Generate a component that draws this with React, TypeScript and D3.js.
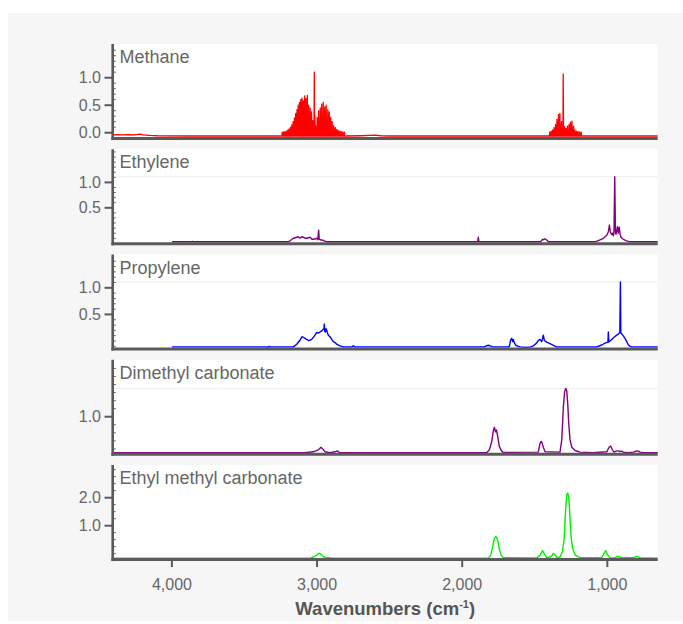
import React from "react";
import * as d3 from "d3";

type Pt = [number, number];

// ---------- data ----------
const xDomain: [number, number] = [4408, 653];
const xTickValues = [4000, 3000, 2000, 1000];
const xTitle = "Wavenumbers (cm";

const panelNames = ["Methane", "Ethylene", "Propylene", "Dimethyl carbonate", "Ethyl methyl carbonate"];
const panelColors = ["#ff0000", "#800080", "#0000ff", "#800080", "#00ee00"];
const panelYDomains: [number, number][] = [
  [-0.107, 1.613],
  [-0.21, 1.653],
  [-0.152, 1.626],
  [-0.169, 2.769],
  [-0.211, 3.168],
];
const panelMajorTicks = [[0, 0.5, 1.0], [0.5, 1.0], [0.5, 1.0], [1.0], [1.0, 2.0]];
const panelMinorTicks = [
  [-0.1, 0.1, 0.2, 0.3, 0.4, 0.6, 0.7, 0.8, 0.9, 1.1, 1.2, 1.3, 1.4, 1.5, 1.6],
  [-0.1, 0, 0.1, 0.2, 0.3, 0.4, 0.6, 0.7, 0.8, 0.9, 1.1, 1.2, 1.3, 1.4, 1.5, 1.6],
  [-0.1, 0, 0.1, 0.2, 0.3, 0.4, 0.6, 0.7, 0.8, 0.9, 1.1, 1.2, 1.3, 1.4, 1.5, 1.6],
  [0, 0.25, 0.5, 0.75, 1.25, 1.5, 1.75, 2.0, 2.25, 2.5, 2.75],
  [0, 0.25, 0.5, 0.75, 1.25, 1.5, 1.75, 2.25, 2.5, 2.75, 3.0],
];

// Methane: rovibrational line sticks [wavenumber, height] and a weak background
const methaneBase = -0.06;
const methaneSticks: Pt[] = [
  // nu3 R branch
  [3240, 0.01], [3230, 0.015], [3220, 0.02], [3211, 0.03], [3201, 0.05], [3192, 0.07],
  [3183, 0.1], [3174, 0.14], [3165, 0.2], [3156, 0.27], [3147, 0.35], [3138, 0.42],
  [3130, 0.5], [3121, 0.55], [3112, 0.6], [3104, 0.63], [3095, 0.58], [3086, 0.67],
  [3077, 0.62], [3067, 0.68], [3058, 0.5], [3048, 0.45], [3038, 0.38], [3029, 0.22],
  // nu3 Q branch
  [3019, 1.1], [3015, 0.3],
  // nu3 P branch
  [3009, 0.12], [2999, 0.28], [2989, 0.4], [2978, 0.45], [2968, 0.52], [2957, 0.55],
  [2947, 0.47], [2937, 0.5], [2926, 0.42], [2916, 0.38], [2906, 0.28], [2896, 0.2],
  [2885, 0.13], [2874, 0.09], [2864, 0.06], [2854, 0.04], [2843, 0.03], [2833, 0.02],
  [2823, 0.015], [2812, 0.01],
  // nu4 R branch
  [1397, 0.01], [1387, 0.03], [1377, 0.05], [1367, 0.09], [1357, 0.15], [1347, 0.24],
  [1337, 0.33], [1327, 0.35], [1316, 0.2],
  // nu4 Q branch
  [1304, 1.07],
  // nu4 P branch
  [1295, 0.11], [1285, 0.08], [1275, 0.12], [1264, 0.15], [1254, 0.19], [1244, 0.21],
  [1233, 0.12], [1223, 0.05], [1212, 0.03], [1202, 0.02], [1191, 0.015], [1180, 0.01],
];
const methaneBackground: Pt[] = [
  [4408, -0.04], [4380, -0.035], [4340, -0.04], [4300, -0.035], [4260, -0.04], [4220, -0.025],
  [4200, -0.04], [4150, -0.05], [4100, -0.055], [3900, -0.06], [3500, -0.06], [3260, -0.06],
  [2800, -0.06], [2700, -0.055], [2640, -0.05], [2600, -0.045], [2560, -0.055], [2500, -0.06],
  [1420, -0.06], [1170, -0.06], [653, -0.06],
];

const ethyleneData: Pt[] = [
  [4000, -0.17], [3870, -0.17], [3860, -0.16], [3850, -0.17], [3200, -0.17], [3186, -0.15],
  [3163, -0.1], [3140, -0.08], [3129, -0.07], [3117, -0.1], [3105, -0.07], [3094, -0.08],
  [3080, -0.1], [3071, -0.1], [3060, -0.09], [3048, -0.08], [3035, -0.12], [3026, -0.12],
  [3010, -0.11], [3002, -0.1], [2995, -0.13], [2989, 0.06], [2985, -0.12], [2980, -0.13],
  [2957, -0.14], [2934, -0.17], [1900, -0.17], [1893, -0.16], [1889, -0.08], [1885, -0.16],
  [1880, -0.17], [1460, -0.17], [1445, -0.12], [1440, -0.13], [1430, -0.11], [1420, -0.13],
  [1405, -0.17], [1085, -0.17], [1050, -0.13], [1027, -0.1], [1004, -0.04], [993, 0.03],
  [986, 0.16], [979, 0.03], [970, -0.03], [963, 0.0], [958, -0.05], [954, 0.05], [949, 1.11],
  [944, 0.0], [940, -0.02], [930, 0.13], [925, 0.0], [918, 0.12], [912, -0.02], [906, -0.08],
  [890, -0.12], [867, -0.15], [844, -0.17], [653, -0.17],
];

const propyleneData: Pt[] = [
  [4000, -0.11], [3350, -0.11], [3340, -0.12], [3330, -0.1], [3320, -0.11], [3163, -0.11],
  [3140, -0.06], [3117, 0.02], [3104, 0.08], [3094, 0.07], [3083, 0.05], [3060, 0.01],
  [3048, 0.015], [3037, 0.03], [3014, 0.11], [3002, 0.16], [2990, 0.15], [2980, 0.17],
  [2968, 0.19], [2957, 0.22], [2952, 0.24], [2950, 0.32], [2947, 0.18], [2943, 0.17],
  [2938, 0.23], [2934, 0.21], [2928, 0.15], [2922, 0.11], [2911, 0.08], [2899, 0.03],
  [2888, -0.01], [2876, -0.03], [2865, -0.06], [2842, -0.09], [2819, -0.11], [2760, -0.11],
  [2750, -0.09], [2740, -0.11], [1850, -0.11], [1842, -0.1], [1820, -0.08], [1800, -0.1],
  [1790, -0.11], [1680, -0.11], [1675, -0.1], [1666, 0.02], [1659, 0.05], [1652, -0.01],
  [1648, 0.03], [1641, -0.03], [1631, -0.08], [1613, -0.1], [1600, -0.11], [1560, -0.12],
  [1530, -0.11], [1510, -0.09], [1491, -0.05], [1475, 0.01], [1464, 0.03], [1452, -0.01],
  [1441, 0.11], [1434, 0.01], [1418, -0.02], [1395, -0.05], [1372, -0.08], [1349, -0.11],
  [1073, -0.11], [1039, -0.075], [1016, -0.04], [996, -0.02], [993, 0.17], [990, -0.02],
  [986, -0.01], [970, 0.03], [954, 0.07], [936, 0.11], [924, 0.13], [914, 0.16], [910, 1.11],
  [907, 0.15], [903, 0.14], [894, 0.11], [878, 0.05], [867, -0.01], [855, -0.075],
  [844, -0.1], [832, -0.11], [653, -0.11],
];

const dmcData: Pt[] = [
  [4408, -0.12], [3100, -0.12], [3071, -0.11], [3026, -0.09], [2991, -0.03], [2973, 0.05],
  [2961, 0.0], [2945, -0.09], [2911, -0.12], [2876, -0.09], [2860, -0.06], [2846, -0.12],
  [1831, -0.12], [1813, -0.03], [1797, 0.22], [1785, 0.58], [1778, 0.67], [1771, 0.53],
  [1764, 0.59], [1755, 0.38], [1744, 0.07], [1728, -0.07], [1717, -0.11], [1476, -0.1],
  [1464, 0.17], [1457, 0.23], [1452, 0.22], [1441, 0.05], [1429, -0.09], [1326, -0.1],
  [1314, 0.28], [1303, 1.31], [1294, 1.78], [1287, 1.88], [1280, 1.81], [1273, 1.42],
  [1266, 0.79], [1257, 0.28], [1245, 0.05], [1222, -0.05], [1188, -0.1], [1100, -0.12],
  [1004, -0.09], [988, 0.05], [977, 0.09], [966, -0.02], [954, -0.1], [936, -0.06],
  [925, -0.06], [912, -0.08], [900, -0.07], [890, -0.1], [855, -0.12], [821, -0.1],
  [798, -0.065], [785, -0.07], [775, -0.1], [752, -0.12], [653, -0.12],
];

const emcData: Pt[] = [
  [4408, -0.16], [3048, -0.16], [3021, -0.11], [3002, -0.05], [2991, 0.01], [2980, 0.01],
  [2975, -0.02], [2957, -0.11], [2934, -0.13], [2899, -0.15], [2853, -0.16], [1819, -0.15],
  [1803, -0.05], [1790, 0.25], [1778, 0.55], [1769, 0.61], [1762, 0.58], [1753, 0.43],
  [1744, 0.16], [1732, -0.05], [1717, -0.14], [1487, -0.15], [1464, -0.06], [1446, 0.11],
  [1434, -0.01], [1418, -0.14], [1395, -0.12], [1383, -0.08], [1372, 0.01], [1360, -0.05],
  [1349, -0.14], [1326, -0.12], [1310, 0.07], [1298, 0.49], [1289, 1.44], [1280, 2.1],
  [1273, 2.16], [1266, 2.04], [1259, 1.44], [1250, 0.61], [1239, 0.19], [1222, -0.05],
  [1188, -0.14], [1039, -0.14], [1023, 0.01], [1011, 0.11], [1000, -0.03], [981, -0.15],
  [946, -0.14], [930, -0.1], [915, -0.12], [900, -0.14], [820, -0.14], [800, -0.1],
  [785, -0.12], [775, -0.14], [653, -0.16],
];

// ---------- component ----------
const W = 683;
const H = 624;
const plotLeft = 112.7;
const plotRight = 657.7;
const firstTop = 44;
const panelPitch = 105.25;
const panelHeight = 94.6;
const axisColor = "#5a5a5a";
const textColor = "#666";
const font = "'Liberation Sans', Arial, Helvetica, sans-serif";

function methanePoints(): Pt[] {
  const pts: Pt[] = [...methaneBackground];
  methaneSticks.forEach(([w, h]) => {
    pts.push([w + 2.2, methaneBase], [w, h], [w - 2.2, methaneBase]);
  });
  return pts.sort((a, b) => b[0] - a[0]);
}

export default function App() {
  const x = d3.scaleLinear().domain(xDomain).range([plotLeft, plotRight]);
  const series: Pt[][] = [methanePoints(), ethyleneData, propyleneData, dmcData, emcData];

  const panels = panelNames.map((name, i) => {
    const top = firstTop + i * panelPitch;
    const bottom = top + panelHeight;
    const y = d3.scaleLinear().domain(panelYDomains[i]).range([bottom, top]);
    const line = d3
      .line<Pt>()
      .x((d) => x(d[0]))
      .y((d) => y(d[1]));
    const data = series[i];
    const maxVal = d3.max(data, (d) => d[1]) as number;
    const fmt = d3.format(".1f");
    return (
      <g key={name}>
        <rect x={plotLeft} y={top} width={plotRight - plotLeft} height={bottom - top} fill="#fff" />
        {i >= 1 && i <= 3 && (
          <line x1={plotLeft} x2={plotRight} y1={y(maxVal)} y2={y(maxVal)} stroke="#ececec" strokeWidth={1} />
        )}
        <path
          d={line(data) || ""}
          fill="none"
          stroke={panelColors[i]}
          strokeWidth={i === 0 ? 1.3 : 1.4}
          strokeLinejoin="round"
        />
        <text x={119.5} y={top + 19} fontSize={18} fill={textColor} fontFamily={font}>
          {name}
        </text>
        {/* y axis */}
        <line x1={plotLeft} x2={plotLeft} y1={top} y2={bottom + 1.5} stroke={axisColor} strokeWidth={2.6} />
        {panelMajorTicks[i].map((t) => (
          <g key={"M" + t}>
            <line x1={104.5} x2={plotLeft} y1={y(t)} y2={y(t)} stroke={axisColor} strokeWidth={2} />
            <text
              x={101}
              y={y(t)}
              dy="0.35em"
              textAnchor="end"
              fontSize={16}
              fill={textColor}
              fontFamily={font}
            >
              {fmt(t)}
            </text>
          </g>
        ))}
        {panelMinorTicks[i]
          .filter((t) => y(t) > top + 2 && y(t) < bottom - 2)
          .map((t) => (
            <line key={"m" + t} x1={plotLeft} x2={plotLeft + 3} y1={y(t)} y2={y(t)} stroke={axisColor} strokeWidth={1} />
          ))}
        {/* x axis line */}
        <line x1={plotLeft - 1.3} x2={plotRight} y1={bottom} y2={bottom} stroke={axisColor} strokeWidth={3} />
      </g>
    );
  });

  const lastBottom = firstTop + 4 * panelPitch + panelHeight;

  return (
    <svg
      width={W}
      height={H}
      style={{ position: "absolute", left: 0, top: 0 }}
      xmlns="http://www.w3.org/2000/svg"
    >
      <rect x={0} y={0} width={W} height={H} fill="#fff" />
      <rect x={8} y={13} width={W - 8} height={608} fill="#f6f6f6" />
      {panels}
      {xTickValues.map((t) => (
        <g key={t}>
          <line x1={x(t)} x2={x(t)} y1={lastBottom} y2={lastBottom + 7.5} stroke={axisColor} strokeWidth={2} />
          <text
            x={x(t)}
            y={590}
            textAnchor="middle"
            fontSize={16}
            fill={textColor}
            fontFamily={font}
          >
            {d3.format(",")(t)}
          </text>
        </g>
      ))}
      <text
        x={(plotLeft + plotRight) / 2}
        y={615}
        textAnchor="middle"
        fontSize={18.5}
        fontWeight="bold"
        fill="#555"
        fontFamily={font}
      >
        {xTitle}
        <tspan fontSize={11} dy={-7}>
          -1
        </tspan>
        <tspan dy={7}>)</tspan>
      </text>
    </svg>
  );
}
